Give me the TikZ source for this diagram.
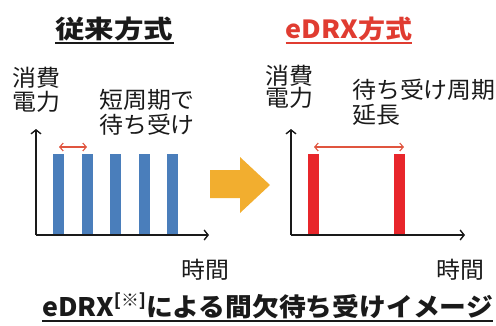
\documentclass[tikz,border=0pt]{standalone}
\usepackage{fontspec}
\usetikzlibrary{arrows.meta}
\newfontfamily\jp[FakeStretch=1.04]{Noto Sans CJK JP}
\newfontfamily\jpb[FakeStretch=1.05]{Noto Sans CJK JP}
\newfontfamily\jptitle[FakeStretch=1.18]{Noto Sans CJK JP}
\newfontfamily\jptitleb[FakeStretch=1.08]{Noto Sans CJK JP}
\definecolor{barblue}{HTML}{4A7EBB}
\definecolor{barred}{HTML}{E8262B}
\definecolor{ttlred}{HTML}{E03C31}
\definecolor{arrred}{HTML}{E0553F}
\definecolor{orng}{HTML}{F2AE2F}
\definecolor{txt}{HTML}{1A1A1A}
\begin{document}
\begin{tikzpicture}[x=1pt,y=-1pt,
  lbl/.style={inner sep=0pt, anchor=base west, text=txt, font=\jp\fontsize{23}{23}\selectfont},
  ttl/.style={inner sep=0pt, anchor=base, font=\jptitle\bfseries\fontsize{25}{25}\selectfont},
  bar/.style={inner sep=0pt, minimum width=11pt, minimum height=80pt, anchor=south},
  axis/.style={line width=1.6pt, draw=txt, -{Straight Barb[length=4pt,width=10pt,line width=1.4pt]}},
  dbl/.style={line width=1.1pt, draw=arrred, {Straight Barb[length=3.5pt,width=8pt]}-{Straight Barb[length=3.5pt,width=8pt]}},
  uline/.style={line width=2pt}]
\useasboundingbox (0,0) rectangle (496,325);
% titles
\node[ttl, text=txt] (t1) at (114.5,38.5) {従来方式};
\draw[uline, txt] ([yshift=-4.5pt]t1.base west) -- ([yshift=-4.5pt]t1.base east);
\node[ttl, text=ttlred, font=\jptitleb\bfseries\fontsize{25}{25}\selectfont] (t2) at (349,38.5) {eDRX方式};
\draw[uline, ttlred] ([yshift=-4.5pt]t2.base west) -- ([yshift=-4.5pt]t2.base east);
% left labels
\node[lbl] (l1a) at (12,86.5) {消費};
\node[lbl] (l1b) at (12,110.5) {電力};
\node[lbl] (l2a) at (99,108.5) {短周期で};
\node[lbl] (l2b) at (99,133.5) {待ち受け};
\node[lbl] (l3) at (181,278) {時間};
% right labels
\node[lbl] (r1a) at (265,84) {消費};
\node[lbl] (r1b) at (265,106) {電力};
\node[lbl] (r2a) at (352,98.5) {待ち受け周期};
\node[lbl] (r2b) at (352,123.5) {延長};
\node[lbl] (r3) at (436,278) {時間};
% left axes
\coordinate (o1) at (36,235);
\coordinate (ya) at (36,129);
\coordinate (xa) at (209,235);
\draw[axis] (o1) -- (ya);
\draw[axis] (o1) -- (xa);
% left bars
\foreach \i/\x in {1/58.5,2/87,3/115.5,4/144,5/172.5}
  \node[bar, fill=barblue] (b\i) at (\x,234.5) {};
\coordinate (da) at (59,147);
\coordinate (db) at (87,147);
\draw[dbl] (da) -- (db);
% right axes
\coordinate (o2) at (291,235);
\coordinate (yb) at (291,129);
\coordinate (xb) at (465,235);
\draw[axis] (o2) -- (yb);
\draw[axis] (o2) -- (xb);
\node[bar, fill=barred] (c1) at (313.5,234.5) {};
\node[bar, fill=barred] (c2) at (399.5,234.5) {};
\coordinate (dc) at (314,147);
\coordinate (dd) at (404,147);
\draw[dbl] (dc) -- (dd);
% orange arrow
\fill[orng] (210,170) -- (240,170) -- (240,157) -- (270,185) -- (240,213) -- (240,198) -- (210,198) -- cycle;
% bottom title
\node[inner sep=0pt, anchor=base, text=txt, font=\jpb\bfseries\fontsize{25.5}{25.5}\selectfont] (bt) at (267.5,316)
  {eDRX\raisebox{0.38em}{\fontsize{17}{17}\selectfont[※]}による間欠待ち受けイメージ};
\draw[uline, txt] ([yshift=-4.5pt]bt.base west) -- ([yshift=-4.5pt]bt.base east);
\end{tikzpicture}
\end{document}
